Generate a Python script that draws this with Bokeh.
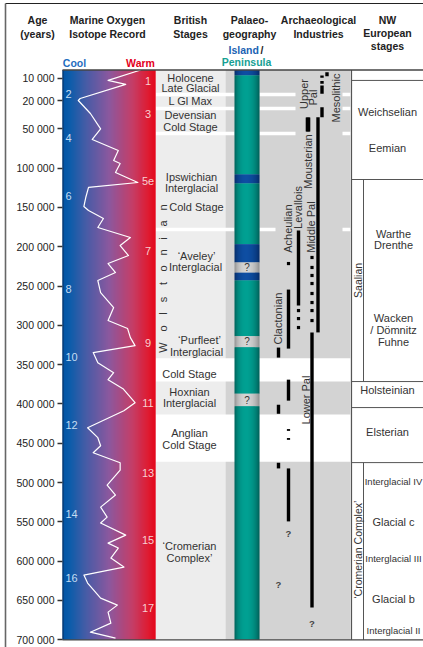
import numpy as np
from bokeh.plotting import figure
from bokeh.models import Range1d, LinearAxis, FixedTicker
from bokeh.core.properties import value
from bokeh.embed import file_html
from bokeh.resources import INLINE

FONT = "Liberation Sans"

# ---------------- data ----------------
tick_ages = [10000, 20000, 50000, 100000, 150000, 200000, 250000, 300000, 350000,
             400000, 450000, 500000, 550000, 600000, 650000, 700000]
tick_labels = ["10 000", "20 000", "50 000", "100 000", "150 000", "200 000", "250 000",
               "300 000", "350 000", "400 000", "450 000", "500 000", "550 000",
               "600 000", "650 000", "700 000"]

# marine oxygen isotope curve: warmth index 0 (cool) .. 100 (warm)
iso_age = [0, 11000, 12800, 19100, 20000, 33800, 50000, 63600, 77600, 90300,
           94100, 105600, 118300, 124600, 137400, 148800, 153900, 164100, 175600, 188300,
           198500, 211200, 221400, 232800, 243000, 258300, 277400, 293900, 304100, 315600,
           325800, 334700, 347500, 360200, 369100, 380600, 398400, 408600, 430200, 442900,
           453100, 462000, 474800, 484100, 503200, 515900, 531200, 543900, 551500, 566800,
           577000, 583300, 596100, 607500, 617700, 627900, 647000, 655900, 664800, 678800,
           690300, 697900]
iso_warmth = [84, 49, 68, 19, 17, 30, 41, 32, 60, 55,
              62, 57, 81, 28, 25, 23, 28, 44, 38, 73,
              62, 71, 49, 57, 38, 41, 55, 49, 70, 73,
              78, 33, 38, 55, 49, 65, 78, 66, 27, 38,
              41, 33, 62, 62, 48, 57, 41, 48, 41, 68,
              49, 60, 52, 66, 23, 27, 41, 59, 49, 52,
              30, 57]

mis_labels = ["1", "2", "3", "4", "5e", "6", "7", "8", "9", "10", "11", "12", "13",
              "14", "15", "16", "17"]
mis_age = [11400, 16900, 34800, 61100, 117000, 134900, 204900, 253200, 321900, 339700,
           398300, 426300, 487400, 539500, 572600, 621000, 659200]

# British stages
brit_text = ["Holocene", "Late Glacial", "L Gl Max", "Devensian", "Cold Stage",
             "Ipswichian", "Interglacial", "Cold Stage", "\u2018Aveley\u2019", "Interglacial",
             "\u2018Purfleet\u2019", "Interglacial", "Cold Stage", "Hoxnian", "Interglacial",
             "Anglian", "Cold Stage", "\u2018Cromerian", "Complex\u2019"]
brit_age = [9150, 14600, 20000, 35400, 48600, 110700, 124700, 150100, 212400, 226400,
            318200, 333600, 361500, 384400, 398400, 436600, 451800, 580300, 595500]
brit_boundaries = [17300, 28500, 56000, 178000]
cold_band_start = [342000, 413500]
cold_band_end = [371500, 473500]
wolstonian_letters = list("Wolstonian")
wolstonian_age = [328300, 304100, 285000, 267200, 246800, 227700, 207400, 189600, 170500, 150100]

# Palaeogeography
palaeo_state = ["island", "peninsula", "island", "peninsula", "island", "uncertain",
                "island", "peninsula", "uncertain", "peninsula", "uncertain", "peninsula"]
palaeo_start = [0, 6700, 108000, 119500, 197000, 220000, 233000, 243000, 314000, 328000,
                387000, 403000]
palaeo_end = [6700, 108000, 119500, 197000, 220000, 233000, 243000, 314000, 328000,
              387000, 403000, 700000]

# Archaeological industries: solid ranges
arch_lane = ["Mesolithic", "Upper Pal", "Upper Pal", "Upper Pal", "Upper Pal",
             "Middle Pal", "Mousterian", "Lower Pal", "Levallois",
             "Acheulian", "Acheulian", "Acheulian",
             "Clactonian", "Clactonian", "Clactonian"]
arch_start = [2700, 6700, 11300, 13300, 27100,
              37700, 38000, 309000, 179400,
              254500, 369100, 482000,
              328300, 401000, 474800]
arch_end = [7600, 9500, 12500, 17000, 37700,
            309000, 53400, 659000, 274800,
            329600, 395800, 549400,
            341000, 412500, 482000]
# uncertain (dotted) occurrences
dot_lane = ["Middle Pal dots"] * 8 + ["Levallois"] * 3 + ["Acheulian"]
dot_age = [213700, 226400, 236600, 246800, 259500, 271000, 281200, 293900,
           281200, 291400, 302800, 221400]
dash_lane = ["Acheulian", "Acheulian"]
dash_age = [433100, 444500]
query_lane = ["Acheulian", "Clactonian", "Lower Pal"]
query_age = [565000, 630000, 679700]

arch_names = ["Upper", "Pal", "Mesolithic", "Mousterian", "Middle Pal", "Levallois",
              "Acheulian", "Clactonian", "Lower Pal"]
arch_name_age = [17100, 18700, 18900, 91600, 175000, 150100, 177000, 291400, 395000]

# NW European stages
nw_lines = [11000, 114500, 371500, 404600, 474600]
nw_text = ["Weichselian", "Eemian", "Warthe", "Drenthe", "Wacken", "/ D\u00f6mnitz", "Fuhne",
           "Holsteinian", "Elsterian", "Interglacial IV", "Glacial c", "Interglacial III",
           "Glacial b", "Interglacial II"]
nw_age = [32700, 75000, 183200, 197200, 290600, 305800, 321100, 382300, 435800,
          498100, 550300, 596100, 648300, 687800]
nw_vert = ["Saalian", "\u2018Cromerian Complex\u2019"]
nw_vert_age = [242900, 585400]

# ---------------- scales / layout ----------------
AGE_KNOTS = [0, 10000, 20000, 50000, 700000]
POS_KNOTS = [69.5, 77.7, 100.0, 128.3, 639.3]


def Y(a):
    return np.interp(np.asarray(a, dtype=float), AGE_KNOTS, POS_KNOTS)


GRAD_L, GRAD_R = 62, 155
BRIT_L, BRIT_R = 155, 225
ARCH_L, ARCH_R = 225, 350
PAL_L, PAL_R = 234, 259
NW_L, NW_SUB, NW_R = 351, 363, 423
LANE_X = {"Mesolithic": 326.5, "Upper Pal": 321.5, "Middle Pal": 317.5,
          "Middle Pal dots": 311.5, "Lower Pal": 311.5, "Mousterian": 307.5,
          "Levallois": 298, "Acheulian": 288, "Clactonian": 278}
NAME_X = {"Upper": 303, "Pal": 312, "Mesolithic": 335, "Mousterian": 307, "Middle Pal": 310,
          "Levallois": 297, "Acheulian": 287, "Clactonian": 277, "Lower Pal": 305}
BRIT_X = [190, 190, 190, 190, 190, 191, 191, 196, 196, 195, 199, 196, 189, 189, 189,
          189, 189, 189, 189]
NW_X = [387, 387, 393, 393, 393, 393, 393, 387, 387, 393, 393, 393, 393, 393]
NW_SIZE = ["11px"] * 9 + ["9.5px", "11px", "9.5px", "11px", "9.5px"]

TOP, BOT = Y(0), Y(700000)

p = figure(width=423, height=647, x_range=Range1d(0, 423), y_range=Range1d(647, 0),
           x_axis_type=None, y_axis_type=None, toolbar_location=None,
           output_backend="svg", min_border=0, min_border_left=0, min_border_right=0,
           min_border_top=0, min_border_bottom=0)
p.outline_line_color = None
p.background_fill_color = "white"


def txt(x, y, s, size="11px", color="#333333", align="center", style="normal", angle=0.0,
        baseline="middle"):
    p.text(x=x, y=y, text=s, text_font=value(FONT), text_font_size=value(size),
           text_color=color, text_align=align, text_baseline=baseline,
           text_font_style=style, angle=angle)


# outer border
p.segment(x0=[5, 5], x1=[423, 5], y0=[3, 3], y1=[3, 647], line_color=["#222222", "#666666"],
          line_width=[1.2, 1.6])

# backgrounds
p.quad(left=[BRIT_L], right=[BRIT_R], top=[TOP], bottom=[BOT], fill_color="#EDEDED",
       line_color=None)
p.quad(left=[ARCH_L], right=[ARCH_R], top=[TOP], bottom=[BOT], fill_color="#D3D3D3",
       line_color=None)
p.quad(left=[BRIT_L] * 2, right=[ARCH_R] * 2, top=Y(cold_band_start),
       bottom=Y(cold_band_end), fill_color="white", line_color=None)
by = Y(brit_boundaries)
p.segment(x0=[BRIT_L] * 4, x1=[PAL_L] * 4, y0=by, y1=by, line_color="white", line_width=3.5)
p.segment(x0=[PAL_R] * 4, x1=[295, 295, 295, 275], y0=by, y1=by, line_color="white",
          line_width=3.5)
p.segment(x0=[342] * 4, x1=[ARCH_R] * 4, y0=by, y1=by, line_color="white", line_width=3.5)

# gradient column
n = 93
gx = np.linspace(GRAD_L, GRAD_R, n + 1)
st = [0, 0.08, 0.25, 0.5, 0.75, 0.92, 1.0]
sc = np.array([(0, 84, 164), (12, 92, 170), (70, 92, 166), (139, 88, 158), (196, 62, 104),
               (222, 28, 50), (228, 8, 28)], dtype=float)
tm = (gx[:-1] + gx[1:]) / 2
tm = (tm - GRAD_L) / (GRAD_R - GRAD_L)
gcols = ["#%02x%02x%02x" % tuple(int(round(np.interp(t, st, sc[:, k]))) for k in range(3))
         for t in tm]
gright = gx[1:] + 0.9
gright[-1] = gx[-1]
p.quad(left=gx[:-1], right=gright, top=[TOP] * n, bottom=[BOT] * n, fill_color=gcols,
       line_color=None)
p.segment(x0=[GRAD_L + 0.5], x1=[GRAD_L + 0.5], y0=[TOP], y1=[BOT], line_color="#0b2f5e",
          line_width=1)

# isotope curve
p.line(x=GRAD_L + np.array(iso_warmth) / 100.0 * (GRAD_R - GRAD_L), y=Y(iso_age),
       line_color="white", line_width=1.2, line_join="round")

# MIS numbers
for lab, a in zip(mis_labels, mis_age):
    stage_num = int(lab.rstrip("e"))
    if stage_num % 2 == 0:
        txt([65], [Y(a)], [lab], size="11px", color="#c4dcf3", align="left")
    else:
        txt([147.5], [Y(a)], [lab], size="11px", color="#f7cfd2", align="center")

# palaeogeography bar (1px strips for a smooth cylinder shading)
px = np.arange(PAL_L, PAL_R + 1, 1.0)
ns = len(px) - 1
pt = ((px[:-1] + px[1:]) / 2 - PAL_L) / (PAL_R - PAL_L)
prof = np.sin(np.pi * np.clip(pt ** 0.9, 0, 1)) ** 0.6
PAL_COL = {"peninsula": ((0, 84, 78), (0, 160, 146)),
           "island": ((4, 38, 92), (14, 78, 162)),
           "uncertain": ((130, 130, 130), (212, 212, 212))}
pright = px[1:] + 0.6
pright[-1] = px[-1]
for s, a0, a1 in zip(palaeo_state, palaeo_start, palaeo_end):
    edge, peak = PAL_COL[s]
    cols = ["#%02x%02x%02x" % tuple(int(round(edge[k] + (peak[k] - edge[k]) * f))
                                    for k in range(3)) for f in prof]
    p.quad(left=px[:-1], right=pright, top=[Y(a0)] * ns, bottom=[Y(a1)] * ns,
           fill_color=cols, line_color=None)
    if s == "uncertain":
        txt([PAL_L + 12.5], [Y((a0 + a1) / 2)], ["?"], size="10px", color="#333333")

# archaeological industries
ax = [LANE_X[l] for l in arch_lane]
p.quad(left=[x - 1.7 for x in ax], right=[x + 1.7 for x in ax], top=Y(arch_start),
       bottom=Y(arch_end), fill_color="black", line_color=None)
p.quad(left=[LANE_X["Mousterian"] - 2.3], right=[LANE_X["Mousterian"] + 2.3],
       top=Y([38000]), bottom=Y([53400]), fill_color="black", line_color=None)
p.rect(x=[LANE_X[l] for l in dot_lane], y=Y(dot_age), width=3.2, height=3.2,
       width_units="screen", height_units="screen", fill_color="black", line_color=None)
p.rect(x=[LANE_X[l] for l in dash_lane], y=Y(dash_age), width=3.2, height=1.8,
       width_units="screen", height_units="screen", fill_color="black", line_color=None)
txt([LANE_X[l] for l in query_lane], list(Y(query_age)), ["?"] * 3, size="9.5px",
    color="#444444", style="bold")
txt([NAME_X[n_] for n_ in arch_names], list(Y(arch_name_age)), arch_names, size="11px",
    color="#333333", angle=np.pi / 2)

# british stage texts
txt(BRIT_X, list(Y(brit_age)), brit_text, size="11px", color="#333333")
txt([162] * 10, list(Y(wolstonian_age)), wolstonian_letters, size="11px", color="#333333",
    angle=np.pi / 2)

# NW European stages
ny = Y(nw_lines)
p.segment(x0=[NW_L] * 5, x1=[NW_R] * 5, y0=ny, y1=ny, line_color="#555555", line_width=1)
p.segment(x0=[NW_L], x1=[NW_L], y0=[TOP], y1=[BOT], line_color="#555555", line_width=1.2)
p.segment(x0=[NW_SUB, NW_SUB], x1=[NW_SUB, NW_SUB], y0=Y([114500, 474600]),
          y1=Y([371500, 700000]), line_color="#555555", line_width=1)
for t_, a, x_, s_ in zip(nw_text, nw_age, NW_X, NW_SIZE):
    txt([x_], [Y(a)], [t_], size=s_, color="#333333")
txt([357, 357], list(Y(nw_vert_age)), nw_vert, size="10.5px", color="#333333",
    angle=np.pi / 2)

# frame top & bottom
p.segment(x0=[GRAD_L, GRAD_L], x1=[NW_R, NW_R], y0=[TOP, BOT], y1=[TOP, BOT],
          line_color="#444444", line_width=1.3)

# headers
HC = "#222222"
txt([37, 37], [19, 33], ["Age", "(years)"], size="10.5px", color=HC, style="bold")
txt([107, 107], [19, 33], ["Marine Oxygen", "Isotope Record"], size="10.5px", color=HC,
    style="bold")
txt([190, 190], [19, 33], ["British", "Stages"], size="10.5px", color=HC, style="bold")
txt([249, 249], [19, 33], ["Palaeo-", "geography"], size="10.5px", color=HC, style="bold")
txt([318, 318], [19, 33], ["Archaeological", "Industries"], size="10.5px", color=HC,
    style="bold")
txt([387, 387, 387], [19, 32, 45], ["NW", "European", "stages"], size="10.5px", color=HC,
    style="bold")
txt([228], [49.5], ["Island"], size="10.5px", color="#1b63b3", style="bold", align="left")
txt([260], [49.5], ["/"], size="10.5px", color=HC, style="bold", align="left")
txt([246], [61], ["Peninsula"], size="10.5px", color="#17a093", style="bold")
txt([74], [62], ["Cool"], size="10.5px", color="#1f6dc0", style="bold")
txt([140], [62], ["Warm"], size="10.5px", color="#e3001b", style="bold")

# y axis (non-linear age scale of the reference), pinned at the gradient's left edge
tick_pos = [round(float(v), 3) for v in Y(tick_ages)]
yaxis = LinearAxis(ticker=FixedTicker(ticks=tick_pos, minor_ticks=[]),
                   major_label_overrides={tp: lab for tp, lab in zip(tick_pos, tick_labels)},
                   fixed_location=GRAD_L)
yaxis.axis_line_color = None
yaxis.major_tick_out = 5
yaxis.major_tick_in = 0
yaxis.major_tick_line_color = "#333333"
yaxis.major_tick_line_width = 1.3
yaxis.minor_tick_line_color = None
yaxis.major_label_standoff = 3
yaxis.major_label_text_font = FONT
yaxis.major_label_text_font_size = "10.5px"
yaxis.major_label_text_color = "#222222"
p.add_layout(yaxis, "left")

open("out.html", "w").write(file_html(p, INLINE))
